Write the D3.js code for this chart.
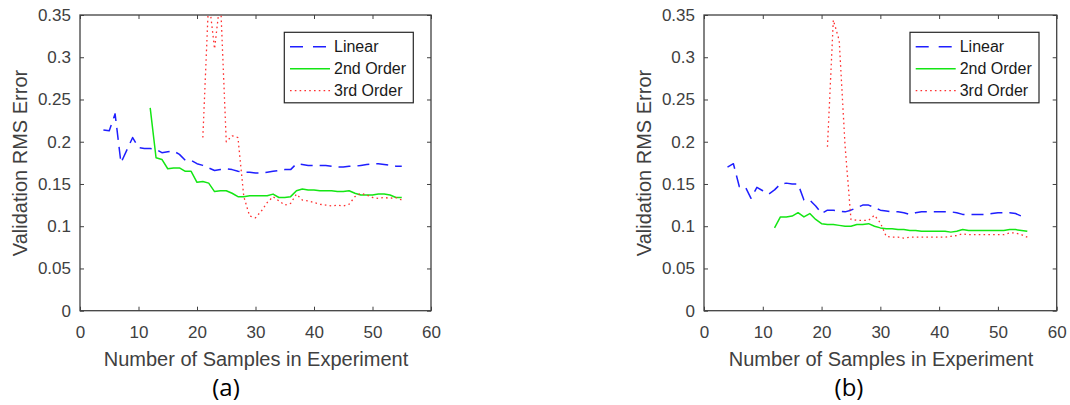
<!DOCTYPE html>
<html>
<head>
<meta charset="utf-8">
<script src="https://cdn.jsdelivr.net/npm/d3@7"></script>
<style>
  html, body { margin: 0; padding: 0; background: #ffffff; }
  svg { display: block; }
  text { font-family: "Liberation Sans", Arial, Helvetica, sans-serif; }
</style>
</head>
<body>
<svg id="chart" width="1070" height="405"></svg>
<script>
// ---------------- data ----------------
const xTicks = [0, 10, 20, 30, 40, 50, 60];
const xTickLabels = ["0", "10", "20", "30", "40", "50", "60"];
const yTicks = [0, 0.05, 0.1, 0.15, 0.2, 0.25, 0.3, 0.35];
const yTickLabels = ["0", "0.05", "0.1", "0.15", "0.2", "0.25", "0.3", "0.35"];
const seriesNames = ["Linear", "2nd Order", "3rd Order"];
const panelLabels = ["(a)", "(b)"];
const xLabel = "Number of Samples in Experiment";
const yLabel = "Validation RMS Error";

// Panel (a)
const aLinearX = [4,5,6,7,8,9,10,11,12,13,14,15,16,17,18,19,20,21,22,23,24,25,26,27,28,29,30,31,32,33,34,35,36,37,38,39,40,41,42,43,44,45,46,47,48,49,50,51,52,53,54,55];
const aLinearY = [0.214,0.213,0.233,0.175,0.19,0.205,0.193,0.192,0.192,0.191,0.187,0.188,0.189,0.185,0.178,0.178,0.174,0.172,0.169,0.166,0.167,0.168,0.167,0.165,0.164,0.164,0.163,0.163,0.164,0.165,0.166,0.167,0.167,0.174,0.173,0.172,0.172,0.172,0.172,0.171,0.170,0.170,0.171,0.171,0.172,0.173,0.174,0.174,0.173,0.172,0.171,0.171];
const a2ndX = [12,13,14,15,16,17,18,19,20,21,22,23,24,25,26,27,28,29,30,31,32,33,34,35,36,37,38,39,40,41,42,43,44,45,46,47,48,49,50,51,52,53,54,55];
const a2ndY = [0.240,0.181,0.179,0.168,0.169,0.169,0.165,0.165,0.152,0.153,0.151,0.141,0.142,0.142,0.139,0.135,0.135,0.136,0.136,0.136,0.136,0.138,0.134,0.134,0.135,0.142,0.144,0.143,0.143,0.142,0.142,0.142,0.141,0.141,0.142,0.139,0.137,0.137,0.137,0.138,0.138,0.137,0.134,0.134];
const a3rdX = [21,22,23,24,25,26,27,28,29,30,31,32,33,34,35,36,37,38,39,40,41,42,43,44,45,46,47,48,49,50,51,52,53,54,55];
const a3rdY = [0.205,0.37,0.31,0.37,0.200,0.207,0.205,0.135,0.112,0.110,0.118,0.128,0.135,0.130,0.125,0.127,0.138,0.131,0.130,0.128,0.126,0.125,0.124,0.125,0.124,0.126,0.135,0.139,0.137,0.134,0.133,0.134,0.133,0.134,0.131];

// Panel (b)
const bLinearX = [4,5,6,7,8,9,10,11,12,13,14,15,16,17,18,19,20,21,22,23,24,25,26,27,28,29,30,31,32,33,34,35,36,37,38,39,40,41,42,43,44,45,46,47,48,49,50,51,52,53,54,55];
const bLinearY = [0.170,0.174,0.147,0.147,0.133,0.146,0.142,0.138,0.143,0.150,0.151,0.150,0.150,0.131,0.131,0.124,0.115,0.119,0.119,0.118,0.117,0.119,0.122,0.125,0.125,0.122,0.119,0.118,0.117,0.117,0.116,0.114,0.116,0.117,0.117,0.117,0.117,0.117,0.117,0.116,0.114,0.114,0.114,0.114,0.114,0.115,0.116,0.116,0.116,0.115,0.112,0.110];
const b2ndX = [12,13,14,15,16,17,18,19,20,21,22,23,24,25,26,27,28,29,30,31,32,33,34,35,36,37,38,39,40,41,42,43,44,45,46,47,48,49,50,51,52,53,54,55];
const b2ndY = [0.098,0.111,0.111,0.112,0.116,0.111,0.115,0.108,0.103,0.102,0.102,0.101,0.100,0.100,0.102,0.102,0.103,0.100,0.098,0.097,0.097,0.096,0.096,0.095,0.095,0.094,0.094,0.094,0.094,0.094,0.093,0.094,0.096,0.095,0.095,0.095,0.095,0.095,0.095,0.095,0.096,0.096,0.095,0.094];
const b3rdX = [21,22,23,24,25,26,27,28,29,30,31,32,33,34,35,36,37,38,39,40,41,42,43,44,45,46,47,48,49,50,51,52,53,54,55];
const b3rdY = [0.194,0.344,0.320,0.195,0.108,0.107,0.107,0.107,0.113,0.104,0.088,0.087,0.087,0.086,0.087,0.087,0.087,0.087,0.087,0.087,0.087,0.088,0.089,0.091,0.090,0.090,0.090,0.090,0.090,0.090,0.090,0.092,0.092,0.090,0.087];

// ---------------- drawing ----------------
const svg = d3.select("#chart");
const axisColor = "#404040";
const styles = [
  { color: "#1f1fff", width: 1.5, dash: "12,7" },
  { color: "#14e614", width: 1.5, dash: null },
  { color: "#ff3030", width: 1.3, dash: "1.6,3.2" }
];

const panels = [
  { left: 80, right: 431, series: [[aLinearX, aLinearY], [a2ndX, a2ndY], [a3rdX, a3rdY]],
    label: panelLabels[0], labelX: 226, xLabelX: 256, yLabelX: 20 },
  { left: 704, right: 1056.7, series: [[bLinearX, bLinearY], [b2ndX, b2ndY], [b3rdX, b3rdY]],
    label: panelLabels[1], labelX: 849, xLabelX: 881, yLabelX: 644 }
];
const plotTop = 15, plotBottom = 310.7;

panels.forEach((p, pi) => {
  const x = d3.scaleLinear().domain([0, 60]).range([p.left, p.right]);
  const y = d3.scaleLinear().domain([0, 0.35]).range([plotBottom, plotTop]);
  const g = svg.append("g");

  const clipId = "clip" + pi;
  svg.append("clipPath").attr("id", clipId)
    .append("rect").attr("x", p.left).attr("y", plotTop)
    .attr("width", p.right - p.left).attr("height", plotBottom - plotTop);

  const xb = d3.axisBottom(x).tickValues(xTicks).tickFormat((d, i) => xTickLabels[i])
    .tickSizeInner(-4).tickSizeOuter(0).tickPadding(15);
  const yl = d3.axisLeft(y).tickValues(yTicks).tickFormat((d, i) => yTickLabels[i])
    .tickSizeInner(-4).tickSizeOuter(0).tickPadding(9);
  const xt = d3.axisTop(x).tickValues(xTicks).tickFormat("").tickSizeInner(-4).tickSizeOuter(0);
  const yr = d3.axisRight(y).tickValues(yTicks).tickFormat("").tickSizeInner(-4).tickSizeOuter(0);

  const gx = g.append("g").attr("transform", `translate(0,${plotBottom})`).call(xb);
  const gy = g.append("g").attr("transform", `translate(${p.left},0)`).call(yl);
  const gxt = g.append("g").attr("transform", `translate(0,${plotTop})`).call(xt);
  const gyr = g.append("g").attr("transform", `translate(${p.right},0)`).call(yr);
  [gx, gy, gxt, gyr].forEach(a => {
    a.select(".domain").remove();
    a.selectAll(".tick line").attr("stroke", axisColor).attr("stroke-width", 1);
    a.selectAll(".tick text").attr("fill", axisColor).style("font-size", "17px")
      .style("font-family", "'Liberation Sans', Arial, sans-serif");
  });
  g.append("rect").attr("x", p.left).attr("y", plotTop)
    .attr("width", p.right - p.left).attr("height", plotBottom - plotTop)
    .attr("fill", "none").attr("stroke", axisColor).attr("stroke-width", 1.3);

  const line = d3.line().x(d => x(d[0])).y(d => y(d[1]));
  p.series.forEach((s, si) => {
    const pts = s[0].map((v, i) => [v, s[1][i]]);
    const st = styles[si];
    g.append("path").datum(pts)
      .attr("clip-path", `url(#${clipId})`)
      .attr("d", line)
      .attr("fill", "none")
      .attr("stroke", st.color)
      .attr("stroke-width", st.width)
      .attr("stroke-linejoin", "round")
      .attr("stroke-dasharray", st.dash);
  });

  const lx = p.right - 17.7 - 129, ly = 32.3;
  const lg = g.append("g").attr("transform", `translate(${lx},${ly})`);
  lg.append("rect").attr("width", 129).attr("height", 70.5)
    .attr("fill", "#ffffff").attr("stroke", "#262626").attr("stroke-width", 1.2);
  seriesNames.forEach((name, i) => {
    const yy = 14.4 + i * 22;
    const st = styles[i];
    lg.append("line").attr("x1", 5.7).attr("x2", 45.7).attr("y1", yy).attr("y2", yy)
      .attr("stroke", st.color).attr("stroke-width", st.width)
      .attr("stroke-dasharray", i === 0 ? "13,10" : st.dash);
    lg.append("text").attr("x", 49.7).attr("y", yy).attr("dy", "0.35em")
      .attr("fill", "#1a1a1a").style("font-size", "16px").text(name);
  });

  g.append("text").attr("x", p.xLabelX).attr("y", 359).attr("dy", "0.35em")
    .attr("text-anchor", "middle").attr("fill", axisColor)
    .style("font-size", "20px").text(xLabel);
  g.append("text").attr("transform", `translate(${p.yLabelX},163) rotate(-90)`)
    .attr("dy", "0.35em").attr("text-anchor", "middle").attr("fill", axisColor)
    .style("font-size", "20px").text(yLabel);

  g.append("text").attr("x", p.labelX).attr("y", 388).attr("dy", "0.35em")
    .attr("text-anchor", "middle").attr("fill", "#000000")
    .style("font-family", "'Open Sans', 'Noto Sans', sans-serif")
    .style("font-size", "24px").text(p.label);
});
</script>
</body>
</html>
